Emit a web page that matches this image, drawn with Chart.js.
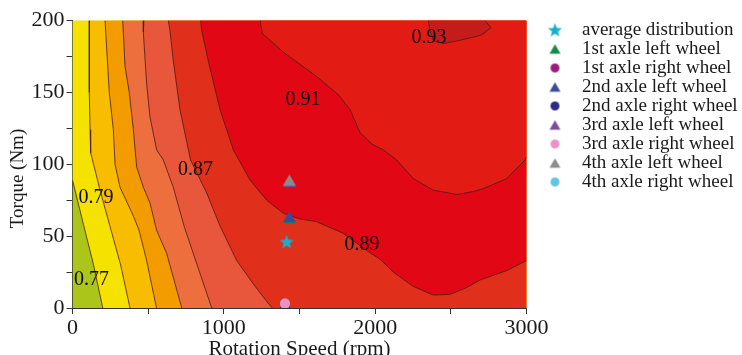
<!DOCTYPE html>
<html><head><meta charset="utf-8">
<script src="https://cdn.jsdelivr.net/npm/chart.js@4.4.1/dist/chart.umd.min.js"></script>
<style>html,body{margin:0;padding:0;overflow:hidden;background:#fff}</style>
</head><body>
<canvas id="c" width="742" height="362"></canvas>
<script>
// ---- axis ranges / ticks ----
const xMin = 0, xMax = 3000, yMin = 0, yMax = 200;
const xTickStep = 500, xLabelStep = 1000;
const yTickStep = 25, yLabelStep = 50;

// ---- contour lines (rotation speed rpm, torque Nm) ----
const line077 = [[0,89],[82,54],[137,31],[200,0]];
const line079 = [[111,200],[111,150],[116,124],[120,108],[182,82],[255,54],[318,30],[380,0]];
const line081 = [[215,200],[243,150],[270,124],[281,100],[314,84],[402,64],[440,54],[490,33],[555,0]];
const line083 = [[332,200],[347,168],[375,150],[402,124],[424,98],[468,84],[512,73],[556,54],[622,38],[722,0]];
const line085 = [[472,200],[468,192],[490,156],[512,133],[556,110],[600,103],[666,84],[740,56],[830,28],[920,0]];
const line087 = [[633,200],[644,193],[666,172],[710,138],[780,103],[887,80],[975,57],[1085,33],[1200,16],[1280,5],[1320,0]];
const line089 = [[847,200],[854,193],[897,172],[975,138],[1063,110],[1173,89],[1283,75],[1393,66],[1500,62],[1614,60],[1700,56],[1789,52],[1944,40],[2032,34],[2120,25],[2252,15],[2384,9],[2494,9.5],[2600,14],[2693,19.5],[2869,26],[3000,33]];
const line091 = [[1239,200],[1255,191],[1393,178],[1614,161],[1760,148],[1834,138],[1900,122],[1980,114],[2054,110],[2142,103],[2252,90],[2384,82],[2539,79],[2649,81],[2714,83],[2869,90],[2990,103],[3000,105]];
const line093 = [[2352,200],[2362,193],[2384,186],[2450,184],[2550,186],[2650,188.5],[2704,190],[2765,195],[2726,200]];
const contourLevels = ['0.77','0.79','0.81','0.83','0.85','0.87','0.89','0.91','0.93'];
const contourLines = [line077,line079,line081,line083,line085,line087,line089,line091,line093];
// corners that close each "above level" region along the plot border
const regionClose = [['BR','TR','TL'],['BR','TR'],['BR','TR'],['BR','TR'],['BR','TR'],['BR','TR'],['TR'],['TR'],[]];
const fillColors = ['#abc51b','#f6e200','#f8bd00','#f39c00','#ec6f3d','#e8573c','#e0301b','#e20714','#e21c15','#c41b1b'];

// ---- contour labels ----
const labelTexts = ['0.93','0.91','0.87','0.79','0.77','0.89'];
const labelX = [2356,1523,813,155,126,1913];
const labelY = [188,145,96,77,20,44];

// ---- wheel markers ----
const markerNames = ['average distribution','1st axle left wheel','1st axle right wheel','2nd axle left wheel','2nd axle right wheel','3rd axle left wheel','3rd axle right wheel','4th axle left wheel','4th axle right wheel'];
const markerX = [1415,1433,1404,1433,1404,1433,1404,1433,1404];
const markerY = [46,62.5,1.8,63.5,1.2,88,3,89,3];
const markerShapes = ['star','triangle','circle','triangle','circle','triangle','circle','triangle','circle'];
const markerColors = ['#13b2cc','#138a48','#9c1c7c','#3a4b9c','#2b2a84','#7c4c9c','#ea92c4','#8c8c8c','#5ec6e0'];
const markerOrder = [-20,-1,-6,-2,-5,-3,-10,-4,-9];

function makeSym(shape, color, size, w, cx) {
  const h = Math.ceil(size) + 4;
  const cv = document.createElement('canvas');
  cv.width = w; cv.height = h;
  const g = cv.getContext('2d');
  g.fillStyle = color;
  const cy = h / 2;
  g.beginPath();
  if (shape === 'star') {
    const R = size / 2, r = R * 0.42;
    for (let i = 0; i < 10; i++) {
      const a = -Math.PI / 2 + i * Math.PI / 5;
      const rr = i % 2 ? r : R;
      const px = cx + rr * Math.cos(a), py = cy + 0.5 + rr * Math.sin(a);
      i ? g.lineTo(px, py) : g.moveTo(px, py);
    }
  } else if (shape === 'triangle') {
    const th = size * 0.85;
    g.moveTo(cx, cy - th / 2); g.lineTo(cx + size / 2, cy + th / 2); g.lineTo(cx - size / 2, cy + th / 2);
  } else {
    g.arc(cx, cy, size / 2, 0, Math.PI * 2);
  }
  g.closePath(); g.fill();
  return cv;
}
const plotSize = {star: 15, triangle: 13, circle: 10};
const legSize = {star: 15, triangle: 11, circle: 9};
const plotImgs = markerShapes.map((s, i) => makeSym(s, markerColors[i], plotSize[s], plotSize[s] + 4, (plotSize[s] + 4) / 2));
const legendImgs = markerShapes.map((s, i) => makeSym(s, markerColors[i], legSize[s], 46, 28.5));

const corner = {BL: [xMin, yMin], BR: [xMax, yMin], TR: [xMax, yMax], TL: [xMin, yMax]};
const toXY = arr => arr.map(([x, y]) => ({x, y}));

const datasets = [];
datasets.push({type: 'line', label: '', data: toXY([corner.BL, corner.BR, corner.TR, corner.TL]),
  fill: 'shape', backgroundColor: fillColors[0], borderWidth: 0, pointRadius: 0, order: 300});
contourLines.forEach((ln, i) => {
  datasets.push({type: 'line', label: '', data: toXY(ln.concat(regionClose[i].map(k => corner[k]))),
    fill: 'shape', backgroundColor: fillColors[i + 1], borderWidth: 0, pointRadius: 0, order: 299 - i});
});
contourLines.forEach((ln, i) => {
  datasets.push({type: 'line', label: '', data: toXY(ln), fill: false, borderColor: '#4b1a12',
    borderWidth: 0.8, pointRadius: 0, tension: 0, order: 100});
});
markerNames.forEach((n, i) => {
  datasets.push({type: 'scatter', label: n, data: [{x: markerX[i], y: markerY[i]}],
    pointStyle: plotImgs[i], pointRadius: 7, backgroundColor: markerColors[i], borderColor: markerColors[i],
    order: markerOrder[i], markerIndex: i});
});

const labelPlugin = {
  id: 'clabels',
  afterDatasetsDraw(chart) {
    const {ctx, scales: {x, y}} = chart;
    ctx.save();
    ctx.font = '20px "Liberation Serif", serif';
    ctx.fillStyle = '#0a0a0a';
    ctx.textAlign = 'center';
    ctx.textBaseline = 'middle';
    labelTexts.forEach((t, i) => ctx.fillText(t, x.getPixelForValue(labelX[i]), y.getPixelForValue(labelY[i])));
    ctx.restore();
  }
};

Chart.defaults.font.family = '"Liberation Serif", serif';
Chart.defaults.color = '#1a1a1a';

new Chart(document.getElementById('c'), {
  type: 'scatter',
  data: {datasets},
  plugins: [labelPlugin],
  options: {
    responsive: false, animation: false, devicePixelRatio: 1, events: [],
    layout: {padding: {top: 20.5, right: 0, bottom: 0, left: 0}},
    plugins: {
      tooltip: {enabled: false},
      legend: {
        position: 'right', align: 'start', maxWidth: 215.5,
        labels: {
          usePointStyle: true, pointStyleWidth: 46, padding: 0,
          font: {size: 19}, color: '#1a1a1a',
          filter: item => item.text !== '',
          sort: (a, b) => a.datasetIndex - b.datasetIndex,
          generateLabels: chart => {
            const items = Chart.defaults.plugins.legend.labels.generateLabels(chart);
            items.forEach(it => {
              const ds = chart.data.datasets[it.datasetIndex];
              if (ds.markerIndex !== undefined) it.pointStyle = legendImgs[ds.markerIndex];
            });
            return items;
          }
        }
      }
    },
    scales: {
      x: {
        type: 'linear', min: xMin, max: xMax,
        afterFit: s => { s.height = 54; },
        ticks: {stepSize: xTickStep, autoSkip: false, maxRotation: 0, padding: 1,
          font: {size: 22}, color: '#1a1a1a',
          callback: v => (v % xLabelStep === 0 ? v : '')},
        grid: {drawOnChartArea: false, drawTicks: true, tickLength: 6, tickColor: '#333'},
        border: {display: true, color: '#333', width: 1},
        title: {display: true, text: 'Rotation Speed (rpm)', font: {size: 21}, color: '#1a1a1a', padding: {top: 0, bottom: 0}}
      },
      y: {
        type: 'linear', min: yMin, max: yMax,
        afterFit: s => { s.width = 72.5; },
        ticks: {stepSize: yTickStep, autoSkip: false, padding: 2,
          font: {size: 22}, color: '#1a1a1a',
          callback: v => (v % yLabelStep === 0 ? v : '')},
        grid: {drawOnChartArea: false, drawTicks: true, tickLength: 6, tickColor: '#333'},
        border: {display: true, color: '#333', width: 1},
        title: {display: true, text: 'Torque (Nm)\u2003\u2002', font: {size: 19}, color: '#1a1a1a', padding: {top: 7, bottom: 0}}
      }
    }
  }
});
</script>
</body></html>
